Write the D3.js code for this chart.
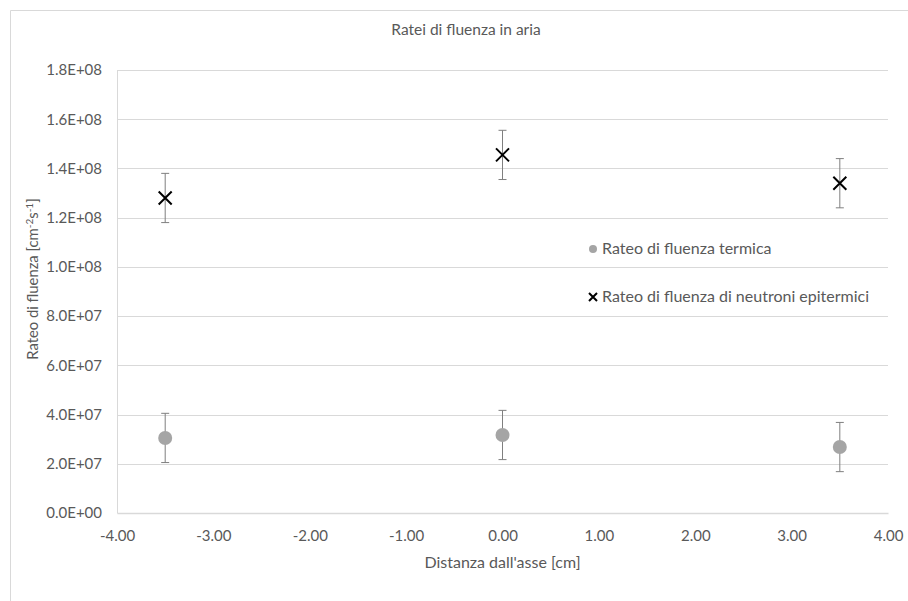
<!DOCTYPE html>
<html>
<head>
<meta charset="utf-8">
<script src="https://cdn.jsdelivr.net/npm/d3@7"></script>
<style>
  body { margin: 0; background: #fff; }
  text { font-family: Lato, "Open Sans", sans-serif; fill: #595959; }
</style>
</head>
<body>
<svg id="chart"></svg>
<script>
'use strict';

// data
var distances = [-3.5, 0, 3.5];
var thermal = [3.05e7, 3.17e7, 2.68e7];
var thermalErr = [1.0e7, 1.0e7, 1.0e7];
var epithermal = [1.28e8, 1.455e8, 1.34e8];
var epithermalErr = [1.0e7, 1.0e7, 1.0e7];
var xTicks = [-4, -3, -2, -1, 0, 1, 2, 3, 4];
var yTicks = [0, 2e7, 4e7, 6e7, 8e7, 1e8, 1.2e8, 1.4e8, 1.6e8, 1.8e8];
var seriesNames = ["Rateo di fluenza termica", "Rateo di fluenza di neutroni epitermici"];

var svgWidth = 908,
    svgHeight = 601;
var margin = { top: 70, right: 20, bottom: 88, left: 117 };
var width = 888 - margin.left;
var height = 513 - margin.top;

var svg = d3.select('#chart')
    .attr("width", svgWidth)
    .attr("height", svgHeight);

// outer chart border (top and left visible)
svg.append("path")
    .attr("d", "M10.5," + svgHeight + "V10.5H" + svgWidth)
    .attr("fill", "none")
    .attr("stroke", "#d9d9d9")
    .attr("stroke-width", 1);

var g = svg.append("g")
    .attr("transform", "translate(" + margin.left + "," + margin.top + ")");

var x = d3.scaleLinear().domain([-4, 4]).range([0, width]);
var y = d3.scaleLinear().domain([0, 1.8e8]).range([height, 0]);

// gridlines
g.append("g")
    .selectAll("line")
    .data(yTicks.slice(1))
    .join("line")
    .attr("x1", 0)
    .attr("x2", width)
    .attr("y1", function (d) { return Math.round(y(d)) + 0.5 })
    .attr("y2", function (d) { return Math.round(y(d)) + 0.5 })
    .attr("stroke", "#d9d9d9");

// axes
var yAxis = g.append("g")
    .attr("class", "axis y")
    .call(d3.axisLeft(y).tickValues(yTicks).tickSize(0).tickPadding(15)
        .tickFormat(function (d) { return d.toExponential(1).replace("e+", "E+0").replace(/E\+0(\d\d)/, "E+$1") }));
yAxis.select(".domain").attr("stroke", "#d9d9d9");
yAxis.selectAll("text").style("font-size", "15px").attr("fill", "#595959");

var xAxis = g.append("g")
    .attr("class", "axis x")
    .attr("transform", "translate(0," + height + ")")
    .call(d3.axisBottom(x).tickValues(xTicks).tickSize(0).tickPadding(17)
        .tickFormat(d3.format(".2f")));
xAxis.select(".domain").attr("stroke", "#d9d9d9").attr("stroke-width", 1.5);
xAxis.selectAll("text").style("font-size", "15px").attr("fill", "#595959")
    .text(function (d) { return d3.format(".2f")(d).replace("−", "-") });

// title and axis labels
svg.append("text")
    .attr("x", 466)
    .attr("y", 35)
    .attr("text-anchor", "middle")
    .style("font-size", "15.5px")
    .text("Ratei di fluenza in aria");

svg.append("text")
    .attr("x", margin.left + width / 2)
    .attr("y", 568)
    .attr("text-anchor", "middle")
    .style("font-size", "16px")
    .text("Distanza dall'asse [cm]");

var yLabel = svg.append("text")
    .attr("transform", "translate(38,279) rotate(-90)")
    .attr("text-anchor", "middle")
    .style("font-size", "14.8px");
yLabel.append("tspan").text("Rateo di fluenza [cm");
yLabel.append("tspan").attr("dy", -5).style("font-size", "10px").text("-2");
yLabel.append("tspan").attr("dy", 5).text("s");
yLabel.append("tspan").attr("dy", -5).style("font-size", "10px").text("-1");
yLabel.append("tspan").attr("dy", 5).text("]");

// error bars
function errorBars(vals, errs) {
    var eb = g.append("g").attr("stroke", "#7f7f7f").attr("stroke-width", 1);
    distances.forEach(function (d, i) {
        var cx = x(d);
        eb.append("line").attr("x1", cx).attr("x2", cx)
            .attr("y1", y(vals[i] + errs[i])).attr("y2", y(vals[i] - errs[i]));
        [vals[i] + errs[i], vals[i] - errs[i]].forEach(function (v) {
            eb.append("line").attr("x1", cx - 4).attr("x2", cx + 4)
                .attr("y1", y(v)).attr("y2", y(v));
        });
    });
}
errorBars(thermal, thermalErr);
errorBars(epithermal, epithermalErr);

// thermal points
g.append("g")
    .selectAll("circle")
    .data(distances)
    .join("circle")
    .attr("cx", function (d) { return x(d) })
    .attr("cy", function (d, i) { return y(thermal[i]) })
    .attr("r", 7)
    .attr("fill", "#a5a5a5");

// epithermal points
function cross(cx, cy, s) {
    return "M" + (cx - s) + "," + (cy - s) + "L" + (cx + s) + "," + (cy + s) +
        "M" + (cx - s) + "," + (cy + s) + "L" + (cx + s) + "," + (cy - s);
}
g.append("g")
    .selectAll("path")
    .data(distances)
    .join("path")
    .attr("d", function (d, i) { return cross(x(d), y(epithermal[i]), 6.5) })
    .attr("stroke", "#000")
    .attr("stroke-width", 2)
    .attr("fill", "none");

// legend
var legend = svg.append("g").attr("transform", "translate(593,0)");
legend.append("circle").attr("cx", 0).attr("cy", 249).attr("r", 4).attr("fill", "#a5a5a5");
legend.append("text").attr("x", 9).attr("y", 254).style("font-size", "16px").text(seriesNames[0]);
legend.append("path").attr("d", cross(0, 297, 4)).attr("stroke", "#000").attr("stroke-width", 2);
legend.append("text").attr("x", 9).attr("y", 302).style("font-size", "16px").text(seriesNames[1]);
</script>
</body>
</html>
